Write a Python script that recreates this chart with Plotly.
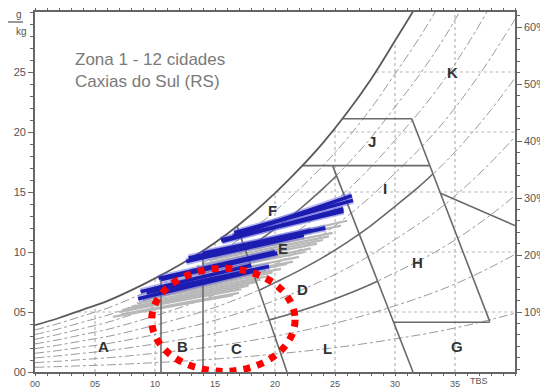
import plotly.graph_objects as go

# ---------------- data ----------------
# saturation curve (g/kg) vs dry bulb temperature (TBS, C)
sat_t = [0, 2, 4, 6, 8, 10, 12, 14, 16, 18, 20, 22, 24, 26, 28, 30, 32, 34, 36, 38, 40]
sat_w = [3.9, 4.5, 5.2, 5.9, 6.8, 7.8, 8.9, 10.1, 11.5, 13.1, 14.9, 16.9, 19.1, 21.6,
         24.4, 27.6, 30.9, 34.6, 38.9, 43.7, 49.0]
rh_levels = [10, 20, 30, 40, 50, 60, 70, 80, 90]

# zone boundary lines (TBS, g/kg)
line_ab = ([10.5, 10.5], [0, 8.1])
line_bc = ([14, 14], [0, 10.1])
line_c = ([21, 18, 16.85], [0, 8.8, 12.15])
line_comfort_right = ([31.5, 24.8], [0, 17.2])
rh30_t = [19.52, 20, 22, 24, 26, 28, 28.55]
rh30_w = [4.33, 4.47, 5.07, 5.73, 6.48, 7.32, 7.57]
rh50_t = [18.68, 20, 22, 24, 26, 28, 30, 32, 33.15]
rh50_w = [6.8, 7.45, 8.45, 9.55, 10.8, 12.2, 13.8, 15.45, 16.5]
rh80_t = [17.55, 18, 20, 22, 24, 25.12]
rh80_w = [10.14, 10.48, 11.92, 13.52, 15.28, 16.35]
line_ij = ([22.27, 32.9], [17.2, 17.2])
line_jk = ([25.6, 31.4], [21.1, 21.1])
line_jright = ([31.4, 37.9], [21.1, 4.2])
line_kh = ([33.8, 40], [14.9, 12.2])
line_hg = ([29.9, 37.9], [4.15, 4.15])

# dotted grid (only below saturation)
grid_v_x = [5, 10, 15, 20, 25, 30, 35]
grid_v_top = [5.5, 7.8, 10.8, 14.9, 20.3, 27.6, 30]
grid_h_y = [5, 10, 15, 20, 25]
grid_h_start = [3.6, 13.9, 20.1, 24.7, 28.4]

# monthly lines of the other cities of zone 1 (Tmin, w, Tmax, w)
gray_lines = [
    (6.5, 4.6, 16.5, 6.4), (7.0, 5.0, 17.2, 6.9), (7.5, 5.2, 17.8, 7.2),
    (8.0, 5.4, 18.5, 7.5), (7.2, 4.8, 17.0, 6.6), (9.0, 6.0, 19.5, 8.0),
    (10.0, 6.5, 20.5, 8.6), (11.0, 7.0, 21.0, 9.0), (12.0, 7.6, 22.0, 9.6),
    (13.0, 8.3, 23.0, 10.3), (14.0, 9.0, 24.0, 11.0), (15.0, 9.6, 24.8, 11.6),
    (15.5, 10.0, 25.5, 12.2), (16.0, 10.3, 26.0, 12.6), (12.5, 8.0, 22.5, 10.0),
    (9.5, 6.2, 19.8, 8.3), (11.5, 7.3, 21.5, 9.2), (13.5, 8.7, 23.5, 10.7),
    (14.5, 9.3, 24.5, 11.3), (8.5, 5.7, 18.8, 7.7),
]
# monthly lines of Caxias do Sul (Tmin, w, Tmax, w)
months = ["Jan", "Fev", "Mar", "Abr", "Mai", "Jun", "Jul", "Ago", "Set", "Out", "Nov", "Dez"]
blue_tmin = [16.5, 16.6, 15.5, 12.8, 10.3, 8.8, 8.6, 9.3, 10.5, 12.6, 14.0, 15.6]
blue_wmin = [11.3, 11.6, 11.0, 9.5, 7.8, 6.7, 6.1, 6.6, 7.7, 9.2, 9.9, 10.9]
blue_tmax = [26.4, 26.5, 25.7, 23.0, 20.0, 18.0, 18.2, 19.5, 20.2, 22.4, 24.2, 25.7]
blue_wmax = [14.7, 14.3, 13.4, 11.8, 10.0, 8.9, 8.4, 8.8, 9.9, 11.4, 12.0, 13.6]

# zone letters
zone_names = ["A", "B", "C", "D", "E", "F", "G", "H", "I", "J", "K", "L"]
zone_x = [5.67, 12.3, 16.8, 22.25, 20.7, 19.75, 35.2, 31.9, 29.2, 28.1, 34.75, 24.4]
zone_y = [2.1, 2.1, 2.0, 6.9, 10.3, 13.5, 2.1, 9.1, 15.3, 19.2, 25.0, 2.0]

x_tickvals = [0, 5, 10, 15, 20, 25, 30, 35]
x_ticktext = ["00", "05", "10", "15", "20", "25", "30", "35"]
y_tickvals = [0, 5, 10, 15, 20, 25]
y_ticktext = ["00", "05", "10", "15", "20", "25"]
r_tickvals = [5.0, 9.7, 14.5, 19.2, 24.0, 28.7]
r_ticktext = ["10%", "20%", "30%", "40%", "50%", "60%"]

FONT = "Liberation Sans"
BND = "#6a6a6a"

fig = go.Figure()

def add_line(x, y, color=BND, width=1.6, dash="solid", shape="linear", yaxis="y"):
    fig.add_trace(go.Scatter(x=x, y=y, mode="lines", yaxis=yaxis,
                             line=dict(color=color, width=width, dash=dash, shape=shape),
                             hoverinfo="skip", showlegend=False))

# grid
for gx, gt in zip(grid_v_x, grid_v_top):
    add_line([gx, gx], [0, gt], color="#b5b5b5", width=1.2, dash="dot")
for gy, gs in zip(grid_h_y, grid_h_start):
    add_line([gs, 40], [gy, gy], color="#b5b5b5", width=1.2, dash="dot")

# relative humidity curves
for rh in rh_levels:
    add_line(sat_t, [rh / 100 * w for w in sat_w], color="#9a9a9a", width=1,
             dash="dashdot", shape="spline")

# gray data lines
for t0, w0, t1, w1 in gray_lines:
    add_line([t0, t1], [w0, w1], color="#b8b8b8", width=2.2)

# zone boundaries
for xs, ys in [line_ab, line_bc, line_c, line_comfort_right, line_ij, line_jk,
               line_jright, line_kh, line_hg]:
    add_line(xs, ys)
add_line(rh30_t, rh30_w, shape="spline")
add_line(rh50_t, rh50_w, shape="spline")
add_line(rh80_t, rh80_w, shape="spline")
# saturation curve
add_line(sat_t, sat_w, color="#5a5a5a", width=1.8, shape="spline")

# blue data lines (Caxias do Sul)
for i in range(len(months)):
    add_line([blue_tmin[i], blue_tmax[i]], [blue_wmin[i], blue_wmax[i]],
             color="rgba(90,90,220,0.45)", width=7)
for i in range(len(months)):
    add_line([blue_tmin[i], blue_tmax[i]], [blue_wmin[i], blue_wmax[i]],
             color="#1c1cb0", width=3.5)

# invisible trace for right axis
fig.add_trace(go.Scatter(x=[0], y=[0], yaxis="y2", mode="markers",
                         marker=dict(opacity=0), hoverinfo="skip", showlegend=False))

# zone letters
for n, zx, zy in zip(zone_names, zone_x, zone_y):
    fig.add_annotation(x=zx, y=zy, text="<b>" + n + "</b>", showarrow=False,
                       font=dict(family=FONT, size=15, color="#333333"))

fig.add_annotation(x=3.15, y=25.1, xanchor="left", yanchor="middle", align="left",
                   text="Zona 1 - 12 cidades<br>Caxias do Sul (RS)", showarrow=False,
                   font=dict(family=FONT, size=17, color="#7a7a7a"))

# g/kg label
fig.add_annotation(xref="paper", yref="paper", x=-0.0417, y=0.9917, yanchor="middle",
                   text="g", showarrow=False, borderpad=0,
                   font=dict(family=FONT, size=10, color="#555"))
fig.add_annotation(xref="paper", yref="paper", x=-0.0417, y=0.9472, yanchor="middle",
                   text="kg", showarrow=False, borderpad=0,
                   font=dict(family=FONT, size=10, color="#555"))
fig.add_shape(type="line", xref="paper", yref="paper", x0=-0.058, x1=-0.025,
              y0=0.9722, y1=0.9722, line=dict(color="#555", width=1.2))
# TBS label
fig.add_annotation(xref="paper", yref="paper", x=0.948, y=-0.006, yanchor="top",
                   text="TBS", showarrow=False, font=dict(family=FONT, size=9, color="#555"))

# red dotted ellipse
fig.add_shape(type="circle", xref="x", yref="y", x0=9.72, x1=21.67, y0=0.05, y1=8.64,
              line=dict(color="#ff0000", width=7, dash="7px,7px"), layer="above")

axis_common = dict(showline=True, linecolor="#666", linewidth=1.6, showgrid=False,
                   zeroline=False, ticks="outside", tickcolor="#666",
                   automargin=False)
fig.update_layout(
    width=540, height=380,
    margin=dict(l=27, r=33, t=4, b=16),
    paper_bgcolor="white", plot_bgcolor="white",
    showlegend=False,
    xaxis=dict(range=[0, 40], tickmode="array", tickvals=x_tickvals, ticktext=x_ticktext,
               mirror="ticks", ticklen=2,
               tickfont=dict(family=FONT, size=9, color="#555"),
               minor=dict(dtick=1, ticklen=2, ticks="outside", tickcolor="#666"),
               **axis_common),
    yaxis=dict(range=[0, 30], tickmode="array", tickvals=y_tickvals, ticktext=y_ticktext,
               ticklen=5, tickfont=dict(family=FONT, size=11, color="#555"),
               minor=dict(dtick=1, ticklen=3, ticks="outside", tickcolor="#666"),
               **axis_common),
    yaxis2=dict(range=[0, 30], overlaying="y", side="right", tickmode="array",
                tickvals=r_tickvals, ticktext=r_ticktext,
                ticklen=5, tickfont=dict(family=FONT, size=11, color="#555"),
                minor=dict(tickmode="linear", tick0=0.25, dtick=0.95, ticklen=3,
                           ticks="outside", tickcolor="#666"),
                **axis_common),
)

fig.write_html("out.html")
